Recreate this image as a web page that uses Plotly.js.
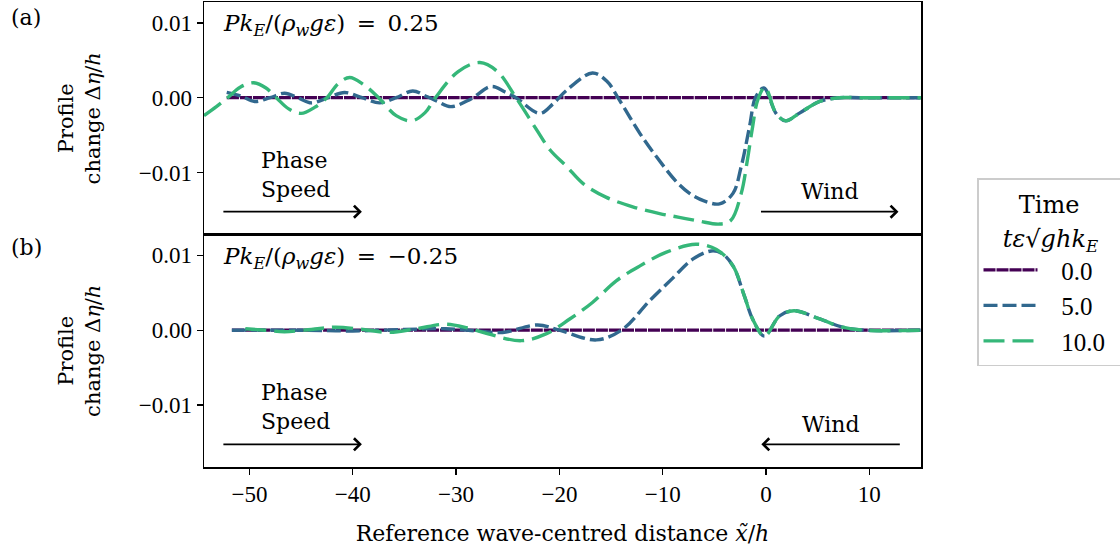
<!DOCTYPE html>
<html>
<head>
<meta charset="utf-8">
<script src="https://cdn.plot.ly/plotly-3.0.1.min.js"></script>
<style>html,body{margin:0;padding:0;background:#fff;}#chart{width:1120px;height:554px;}</style>
</head>
<body>
<div id="chart"></div>
<script>
// ---------- data ----------
const timeLabels = ["0.0", "5.0", "10.0"];
const xTicks = [-50, -40, -30, -20, -10, 0, 10];
const xTickText = ["\u221250", "\u221240", "\u221230", "\u221220", "\u221210", "0", "10"];
const yTicks = [-0.01, 0, 0.01];
const yTickText = ["\u22120.01", "0.00", "0.01"];

// panel (a): P k_E/(rho_w g eps) = 0.25
const xA0 = [-52.2, -30, 0, 15];
const yA0 = [0, 0, 0, 0];
const xA5 = [-52.2, -50.8, -49.5, -48.0, -46.6, -45.3, -44.0, -42.4, -40.8, -39.1, -37.4, -35.8, -34.2, -32.9, -31.8, -30.5, -28.6, -26.6, -25.3, -24.2, -21.9, -20.6, -19.3, -16.8, -15.4, -14.2, -12.2, -10.6, -8.7, -7.4, -6.0, -4.5, -3.2, -2.4, -1.6, -1.0, -0.2, 0.97, 1.9, 3.2, 5.2, 7.1, 9.0, 15.0];
const yA5 = [0.0007, 0.0002, -0.0005, 0.0000, 0.0006, 0.0000, -0.0007, 0.0000, 0.0007, 0.0000, -0.0007, 0.0000, 0.0009, 0.0002, -0.0005, -0.0012, -0.0002, 0.0015, 0.0008, 0.0000, -0.0021, -0.0008, 0.0010, 0.0033, 0.0022, -0.0003, -0.0048, -0.0079, -0.0112, -0.0128, -0.0138, -0.0142, -0.0128, -0.0092, -0.0039, 0.0001, 0.0013, -0.0021, -0.0031, -0.0021, -0.0005, 0.0000, 0.0000, 0.0000];
const xA10 = [-54.4, -53.2, -52.1, -50.9, -49.6, -48.4, -47.4, -46.2, -45.0, -43.7, -42.5, -41.4, -40.3, -39.0, -37.5, -35.8, -34.3, -33.0, -32.0, -29.8, -27.7, -26.0, -24.2, -22.2, -20.9, -19.3, -17.7, -15.5, -12.9, -10.3, -8.4, -6.5, -4.5, -3.4, -2.4, -1.8, -1.3, -0.8, -0.1, 0.97, 1.9, 3.2, 5.2, 7.1, 9.0, 15.0];
const yA10 = [-0.0024, -0.0012, 0.0000, 0.0014, 0.0020, 0.0013, 0.0000, -0.0015, -0.0021, -0.0013, 0.0000, 0.0019, 0.0027, 0.0018, 0.0000, -0.0024, -0.0031, -0.0020, 0.0000, 0.0035, 0.0047, 0.0035, 0.0000, -0.0043, -0.0070, -0.0092, -0.0115, -0.0133, -0.0146, -0.0155, -0.0160, -0.0165, -0.0169, -0.0164, -0.0128, -0.0083, -0.0039, -0.0003, 0.0014, -0.0021, -0.0031, -0.0021, -0.0005, 0.0000, 0.0000, 0.0000];

// panel (b): P k_E/(rho_w g eps) = -0.25
const xB0 = [-51.7, -30, 0, 15];
const yB0 = [0, 0, 0, 0];
const xB5 = [-51.7, -45.0, -40.0, -35.0, -31.0, -28.0, -25.5, -22.1, -20.0, -16.4, -13.9, -11.3, -9.0, -7.1, -5.3, -4.3, -3.2, -2.1, -1.3, -0.16, 1.3, 2.7, 5.2, 7.4, 9.5, 15.0];
const yB5 = [0.0000, 0.0000, -0.0001, 0.0001, 0.0002, -0.0001, -0.0003, 0.0007, 0.0000, -0.0013, 0.0001, 0.0039, 0.0070, 0.0095, 0.0106, 0.0103, 0.0086, 0.0046, 0.0015, -0.0008, 0.0019, 0.0026, 0.0015, 0.0004, 0.0000, 0.0000];
const xB10 = [-50.4, -48.5, -46.6, -44.0, -41.7, -39.0, -36.6, -33.8, -31.1, -28.9, -26.9, -23.7, -21.3, -19.0, -16.8, -14.5, -12.2, -9.7, -6.8, -4.8, -3.2, -2.1, -1.3, -0.16, 1.3, 2.7, 5.2, 7.4, 9.5, 15.0];
const yB10 = [0.0002, 0.0000, -0.0002, 0.0001, 0.0004, 0.0001, -0.0003, 0.0002, 0.0008, 0.0003, -0.0005, -0.0014, -0.0005, 0.0015, 0.0037, 0.0066, 0.0086, 0.0104, 0.0115, 0.0108, 0.0086, 0.0046, 0.0015, -0.0008, 0.0019, 0.0026, 0.0015, 0.0004, 0.0000, 0.0000];

// ---------- styles ----------
const colors = ["#440154", "#31688e", "#35b779"];
const dashes = ["12px,1px", "14px,5px", "21px,8px"];
const widths = [3.2, 3.4, 3.4];
const WORD = "'DejaVu Serif', serif";
const NUM = "'Liberation Serif', 'DejaVu Serif', serif";

function tr(x, y, i, xa, ya, show) {
  return {
    x: x, y: y, xaxis: xa, yaxis: ya, type: "scatter", mode: "lines",
    name: "\u2002 " + timeLabels[i] + "\u2002", legendgroup: "g" + i, showlegend: show,
    line: {color: colors[i], width: widths[i], dash: dashes[i], shape: "spline", smoothing: 1}
  };
}

const data = [
  tr(xA0, yA0, 0, "x", "y", true),
  tr(xA5, yA5, 1, "x", "y", true),
  tr(xA10, yA10, 2, "x", "y", true),
  tr(xB0, yB0, 0, "x2", "y2", false),
  tr(xB5, yB5, 1, "x2", "y2", false),
  tr(xB10, yB10, 2, "x2", "y2", false)
];

const xRange = [-54.4, 15.0];
const yRange = [-0.0183, 0.0128];
const axisCommon = {
  showline: true, mirror: true, linecolor: "#000", linewidth: 1.5,
  showgrid: false, zeroline: false, tickcolor: "#000",
  tickfont: {family: NUM, size: 23, color: "#000"}
};
const yTitle = {text: "Profile<br>change \u0394<i>\u03b7</i>/<i>h</i>", font: {family: WORD, size: 21, color: "#000"}, standoff: 32};

const annFont = {family: WORD, size: 22, color: "#000"};
const eqFont = {family: WORD, size: 23, color: "#000"};
function txt(xref, yref, x, y, text, xanchor, align, font) {
  return {xref: xref, yref: yref, x: x, y: y, text: text, showarrow: false,
    xanchor: xanchor, yanchor: "middle", align: align || "left", font: font || annFont};
}
function arrow(xref, yref, x, y, ax) {
  return {xref: xref, yref: yref, x: x, y: y, ax: ax, ay: 0, text: "", showarrow: true,
    arrowhead: 4, arrowsize: 1.3, arrowwidth: 1.8, arrowcolor: "#000", standoff: 0, startstandoff: 0};
}
const eqA = "<i>Pk</i><sub><i>E</i></sub>/(<i>\u03c1</i><sub><i>w</i></sub><i>g\u03b5</i>)\u2002=\u20020.25";
const eqB = "<i>Pk</i><sub><i>E</i></sub>/(<i>\u03c1</i><sub><i>w</i></sub><i>g\u03b5</i>)\u2002=\u2002\u22120.25";
const legTitle = "<span style='font-size:24px'>\u2002\u2006Time</span><br><span style='font-size:24px'><i>t\u03b5</i>\u221a<i>ghk</i><sub><i>E</i></sub></span>";

const layout = {
  width: 1120, height: 554,
  margin: {l: 204, r: 198.5, t: 2, b: 87, pad: 0},
  paper_bgcolor: "#fff", plot_bgcolor: "#fff",
  font: {family: WORD, size: 22, color: "#000"},
  xaxis: Object.assign({}, axisCommon, {domain: [0, 1], anchor: "y", range: xRange, showticklabels: false, ticks: ""}),
  yaxis: Object.assign({}, axisCommon, {domain: [0.5, 1], anchor: "x", range: yRange, tickvals: yTicks, ticktext: yTickText, ticks: "outside", ticklen: 6, tickwidth: 1.3, title: yTitle}),
  xaxis2: Object.assign({}, axisCommon, {domain: [0, 1], anchor: "y2", range: xRange, tickvals: xTicks, ticktext: xTickText, ticks: "outside", ticklen: 6, tickwidth: 1.3,
    title: {text: "Reference wave-centred distance <i>x\u0303</i>/<i>h</i>", font: {family: WORD, size: 22, color: "#000"}, standoff: 19}}),
  yaxis2: Object.assign({}, axisCommon, {domain: [0, 0.5], anchor: "x2", range: yRange, tickvals: yTicks, ticktext: yTickText, ticks: "outside", ticklen: 6, tickwidth: 1.3, title: yTitle}),
  showlegend: true,
  legend: {
    xref: "container", yref: "container", x: 977 / 1120, y: 1 - 178 / 554, xanchor: "left", yanchor: "top",
    bgcolor: "#fff", bordercolor: "#cccccc", borderwidth: 1.5,
    font: {family: NUM, size: 25, color: "#000"},
    title: {text: legTitle, side: "top center", font: {family: WORD, size: 26, color: "#000"}},
    itemwidth: 54, traceorder: "grouped", tracegroupgap: 0, itemclick: false
  },
  annotations: [
    {xref: "paper", yref: "paper", x: -0.272, y: 0.9677, text: "(a)", showarrow: false, xanchor: "left", yanchor: "middle", font: annFont},
    {xref: "paper", yref: "paper", x: -0.272, y: 0.471, text: "(b)", showarrow: false, xanchor: "left", yanchor: "middle", font: annFont},
    txt("x domain", "y domain", 0.024, 0.90, eqA, "left", "left", eqFont),
    txt("x2 domain", "y2 domain", 0.024, 0.90, eqB, "left", "left", eqFont),
    txt("x domain", "y domain", 0.0767, 0.256, "Phase<br>Speed", "left"),
    txt("x2 domain", "y2 domain", 0.0767, 0.256, "Phase<br>Speed", "left"),
    txt("x domain", "y domain", 0.8725, 0.183, "Wind", "center", "center"),
    txt("x2 domain", "y2 domain", 0.8745, 0.181, "Wind", "center", "center"),
    arrow("x domain", "y domain", 0.2202, 0.098, -140),
    arrow("x2 domain", "y2 domain", 0.2202, 0.0976, -140),
    arrow("x domain", "y domain", 0.9686, 0.098, -139),
    arrow("x2 domain", "y2 domain", 0.7773, 0.0976, 140)
  ]
};

Plotly.newPlot("chart", data, layout, {staticPlot: true, displayModeBar: false});
</script>
</body>
</html>
